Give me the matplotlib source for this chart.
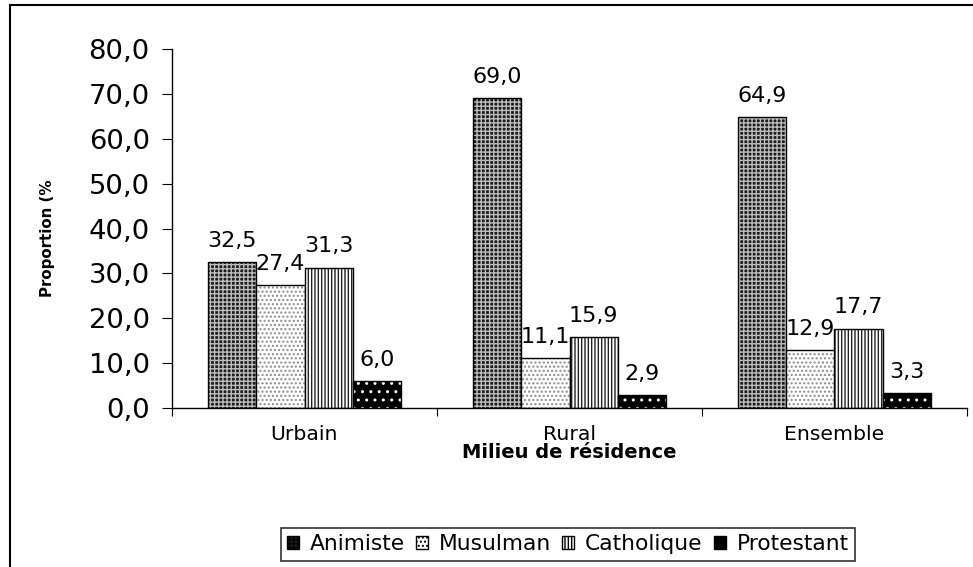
import matplotlib
matplotlib.use("Agg")
import matplotlib.pyplot as plt
from matplotlib.lines import Line2D
from matplotlib.patches import Patch
import numpy as np

plt.rcParams['font.family'] = ['DejaVu Sans']
plt.rcParams['hatch.linewidth'] = 1.0

categories = ["Urbain", "Rural", "Ensemble"]
series = ["Animiste", "Musulman", "Catholique", "Protestant"]
animiste = [32.5, 69.0, 64.9]
musulman = [27.4, 11.1, 12.9]
catholique = [31.3, 15.9, 17.7]
protestant = [6.0, 2.9, 3.3]
yticks = [0, 10, 20, 30, 40, 50, 60, 70, 80]

values = [animiste, musulman, catholique, protestant]
faces = ["#1e1e1e", "white", "white", "black"]
hatchcols = ["#bdbdbd", "#8a8a8a", "#222222", "white"]
hatches = ["++++", "....", "|||||", ". ."]

fig = plt.figure(figsize=(9.73, 5.67), dpi=100)
ax = fig.add_axes([172/973, 1-408/567, (967-172)/973, (408-49)/567])

x = np.arange(len(categories))
w = 0.182
handles = []
for j, vals in enumerate(values):
    pos = x + (j - 1.5) * w
    ax.bar(pos, vals, w, color=faces[j], hatch=hatches[j], edgecolor=hatchcols[j], linewidth=0)
    ax.bar(pos, vals, w, fill=False, edgecolor="black", linewidth=1.0)
    for p, v in zip(pos, vals):
        ax.annotate(f"{v:.1f}".replace(".", ","), (p, v), xytext=(0, 8), textcoords="offset points",
                    ha="center", va="bottom", fontsize=16)
    handles.append(Patch(facecolor=faces[j], hatch=hatches[j], edgecolor="black", label=series[j]))

ax.set_xlim(-0.5, 2.5)
ax.set_ylim(0, 80)
ax.set_yticks(yticks)
ax.set_yticklabels([f"{t:.1f}".replace(".", ",") for t in yticks], fontsize=19.7)
ax.set_xticks([-0.5, 0.5, 1.5, 2.5])
ax.set_xticklabels([])
ax.set_xticks(x, minor=True)
ax.set_xticklabels(categories, minor=True, fontsize=14.7)
ax.tick_params(axis="x", which="minor", length=0, pad=12)
ax.tick_params(axis="x", which="major", length=6, direction="out")
ax.tick_params(axis="y", length=7, direction="out", pad=9)
for s in ["top", "right"]:
    ax.spines[s].set_visible(False)
ax.spines["left"].set_linewidth(1.0)
ax.spines["bottom"].set_linewidth(1.0)

ax.set_ylabel("Proportion (%", fontsize=10.8, fontweight="bold", va="center")
ax.yaxis.set_label_coords((47-172)/(967-172), (408-238)/359)
ax.set_xlabel("Milieu de résidence", fontsize=14, fontweight="bold", va="center")
ax.xaxis.set_label_coords(0.5, -(453-408)/359)

leg = fig.legend(handles=handles, loc="center", bbox_to_anchor=(568/973, 1-544.5/567), ncol=4,
                 fontsize=15.7, frameon=True, fancybox=False, edgecolor="black",
                 handlelength=0.55, handleheight=0.55, handletextpad=0.5, columnspacing=0.5,
                 borderpad=0.3, borderaxespad=0)
leg.get_frame().set_linewidth(1.2)

fig.add_artist(Line2D([10/973, 10/973], [0, 1-5/567], color="black", lw=1.5, transform=fig.transFigure))
fig.add_artist(Line2D([10/973, 1], [1-5/567, 1-5/567], color="black", lw=1.5, transform=fig.transFigure))

fig.savefig("out.png", dpi=100)
